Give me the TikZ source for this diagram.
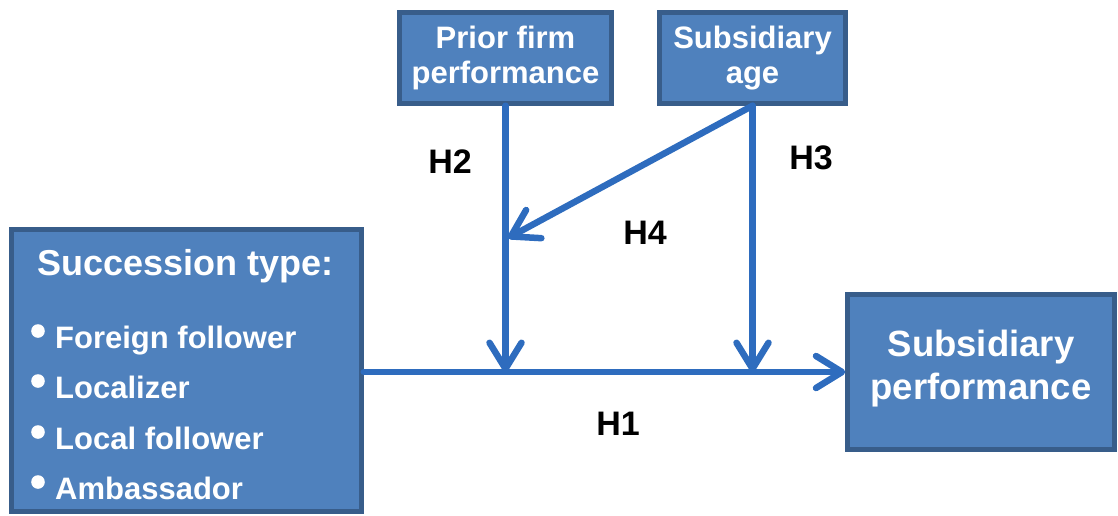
\documentclass[tikz,border=0pt]{standalone}
\usepackage{fontspec}
\setmainfont{Liberation Sans}
\usetikzlibrary{arrows.meta}
\definecolor{boxfill}{RGB}{79,129,189}
\definecolor{boxline}{RGB}{56,93,138}
\definecolor{arrowblue}{RGB}{46,108,190}
\begin{document}
\begin{tikzpicture}[x=1pt,y=-1pt,
  box/.style={draw=boxline, fill=boxfill, line width=4.5pt, text=white, inner sep=0pt, align=center},
  smallbox/.style={box, font=\bfseries\fontsize{31}{35}\selectfont},
  conn/.style={draw=arrowblue, line width=6.5pt, line cap=round, line join=round,
    -{Straight Barb[length=26pt, width=32pt, round]}},
  hyp/.style={font=\bfseries\fontsize{34}{38}\selectfont, text=black, inner sep=0pt},
  item/.style={font=\bfseries\fontsize{31}{35}\selectfont, text=white, inner sep=0pt, anchor=base west}
]
\useasboundingbox (0,0) rectangle (1118,515);
% boxes
\node[smallbox, minimum width=212pt, minimum height=91pt] (prior) at (505.5,58) {Prior firm\\performance};
\node[smallbox, minimum width=186pt, minimum height=91pt] (age) at (752.5,58) {Subsidiary\\age};
\node[box, font=\bfseries\fontsize{36.5}{43}\selectfont, text depth=15pt, minimum width=267pt, minimum height=155pt] (perf) at (981,372) {Subsidiary\\performance};
\node[box, minimum width=350pt, minimum height=282pt] (succ) at (186.5,370.5) {};
% succession texts
\node[font=\bfseries\fontsize{36}{40}\selectfont, text=white, inner sep=0pt, anchor=base] (title) at (185.5,275) {Succession type:};
\fill[white] (38,331) circle (6.8);
\fill[white] (38,381) circle (6.8);
\fill[white] (38,432) circle (6.8);
\fill[white] (38,482) circle (6.8);
\node[item] (i1) at (55,348) {Foreign follower};
\node[item] (i2) at (55,398) {Localizer};
\node[item] (i3) at (55,449) {Local follower};
\node[item] (i4) at (55,499) {Ambassador};
% connectors
\coordinate (j1) at (505.5,372);
\coordinate (j2) at (752.5,372);
\coordinate (m4) at (508,238);
\draw[conn] (succ.east |- j1) -- (perf.west |- j1);
\draw[conn] (prior.south) -- (j1);
\draw[conn] (age.south) -- (j2);
\draw[conn] (age.south) -- (m4);
% labels
\node[hyp] (h2) at (450,162) {H2};
\node[hyp] (h3) at (811,158) {H3};
\node[hyp] (h4) at (645,233) {H4};
\node[hyp] (h1) at (618,424) {H1};
\end{tikzpicture}
\end{document}
